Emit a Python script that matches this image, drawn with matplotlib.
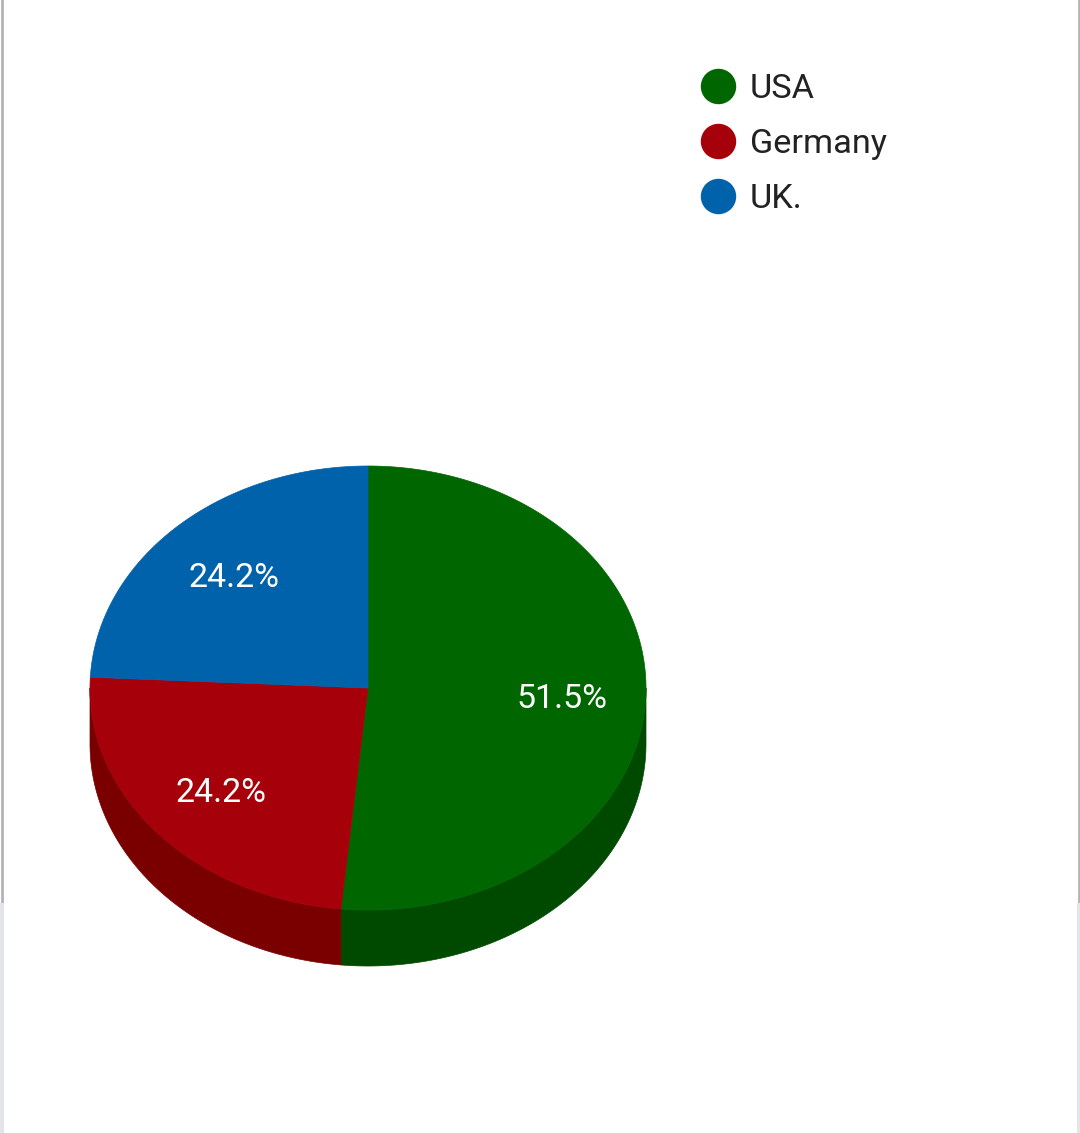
import numpy as np
import matplotlib
matplotlib.use("Agg")
import matplotlib.pyplot as plt
from matplotlib.patches import Polygon

plt.rcParams["font.family"] = ["Roboto", "DejaVu Sans"]

# ─── Data ────────────────────────────────────────────────────────────────────

countries = ["USA", "Germany", "UK."]
shares = [51.5, 24.2, 24.2]
top_colors = ["#006600", "#a6000a", "#0062ab"]
side_colors = ["#004a00", "#7a0000", "#004a80"]

# ─── Layout (pixel space) ────────────────────────────────────────────────────

W, H = 1080, 1133
CX, CY = 368, 688
RX, RY = 278, 222
DEPTH = 56
LABEL_FRAC = 0.70
TEXT_DY = 3  # nudge text down so its visual centre lines up


def ellipse_pts(t0, t1, n=200):
    # angles in degrees, clockwise from 12 o'clock
    t = np.radians(np.linspace(t0, t1, n))
    return CX + RX * np.sin(t), CY - RY * np.cos(t)


fig = plt.figure(figsize=(W / 100, H / 100), dpi=100)
ax = fig.add_axes([0, 0, 1, 1])
ax.set_xlim(0, W)
ax.set_ylim(H, 0)
ax.axis("off")

# frame edges of the card
ax.plot([1.5, 1.5], [0, 905], color="#b4b4b4", lw=2)
ax.plot([W - 1.5, W - 1.5], [0, 905], color="#b4b4b4", lw=2)
ax.plot([1.5, 1.5], [905, H], color="#e3e5ea", lw=3)
ax.plot([W - 1.5, W - 1.5], [905, H], color="#e3e5ea", lw=3)

fracs = np.array(shares) / np.sum(shares)
ends = np.cumsum(fracs) * 360
starts = ends - fracs * 360

# side walls (only the front half, 90..270 deg, is visible)
for s, e, c in zip(starts, ends, side_colors):
    a, b = max(s, 90), min(e, 270)
    if a >= b:
        continue
    x, y = ellipse_pts(a, b)
    xs = np.concatenate([x, x[::-1]])
    ys = np.concatenate([y, y[::-1] + DEPTH])
    ax.add_patch(Polygon(np.column_stack([xs, ys]), closed=True,
                         facecolor=c, edgecolor=c, lw=0.5))

# top faces
for s, e, c in zip(starts, ends, top_colors):
    x, y = ellipse_pts(s, e)
    xs = np.concatenate([[CX], x])
    ys = np.concatenate([[CY], y])
    ax.add_patch(Polygon(np.column_stack([xs, ys]), closed=True,
                         facecolor=c, edgecolor=c, lw=0.5))

# slice labels
for s, e, v in zip(starts, ends, shares):
    m = np.radians((s + e) / 2)
    lx = CX + LABEL_FRAC * RX * np.sin(m)
    ly = CY - LABEL_FRAC * RY * np.cos(m)
    ax.text(lx, ly + TEXT_DY, f"{v:.1f}%", color="white", fontsize=24.5,
            ha="center", va="center")

# legend
for i, (name, c) in enumerate(zip(countries, top_colors)):
    ly = 86 + i * 55
    ax.plot(718, ly, "o", ms=24.5, color=c, mec=c)
    ax.text(750, ly + TEXT_DY, name, color="#222222", fontsize=24.7,
            ha="left", va="center")

plt.savefig("out.png", dpi=100)
